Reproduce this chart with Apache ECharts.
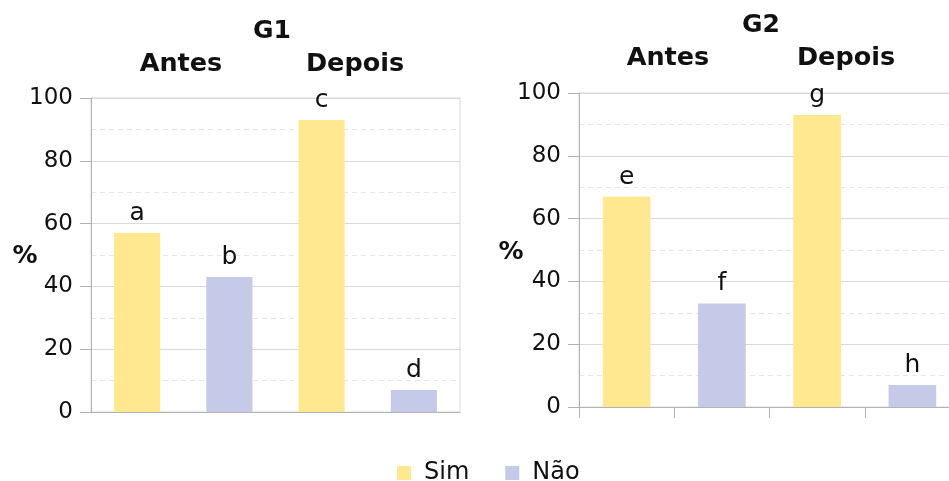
<!DOCTYPE html>
<html>
<head>
<meta charset="utf-8">
<script src="https://cdn.jsdelivr.net/npm/echarts@6/dist/echarts.min.js"></script>
<style>
html,body{margin:0;padding:0;background:#fff;overflow:hidden;width:949px;height:481px;}
#chart{width:965px;height:481px;}
</style>
</head>
<body>
<div id="chart"></div>
<script>
// ---- data ----
const slots = ['Antes Sim', 'Antes Não', 'Depois Sim', 'Depois Não'];
const periods = ['Antes', 'Depois'];
const seriesNames = ['Sim', 'Não'];
const yTicks = [0, 20, 40, 60, 80, 100];
const g1Sim = [57, 93];
const g1Nao = [43, 7];
const g2Sim = [67, 93];
const g2Nao = [33, 7];
const g1SimLetters = ['a', 'c'];
const g1NaoLetters = ['b', 'd'];
const g2SimLetters = ['e', 'g'];
const g2NaoLetters = ['f', 'h'];
const groupTitles = ['G1', 'G2'];

const FONT = 'DejaVu Sans';
const colSim = '#FFE88F';
const colNao = '#C5CAE8';
const gridCol = '#d9d9d9';
const axisCol = '#b3b3b3';
const textCol = '#111111';

function spread(vals, letters, offset) {
  // place the two period values in their slots (Sim -> 0,2 ; Não -> 1,3)
  const out = ['-', '-', '-', '-'];
  vals.forEach((v, i) => { out[i * 2 + offset] = { value: v, letter: letters[i] }; });
  return out;
}

function barSeries(name, idx, data, color) {
  return {
    name: name, type: 'bar', xAxisIndex: idx, yAxisIndex: idx,
    barWidth: '50%', barGap: '-100%',
    itemStyle: { color: color },
    data: data,
    label: {
      show: true, position: 'top', distance: 7,
      formatter: p => p.data.letter,
      fontFamily: FONT, fontSize: 25, color: textCol
    }
  };
}

function yAxis(idx) {
  return {
    type: 'value', gridIndex: idx, min: yTicks[0], max: yTicks[yTicks.length - 1], interval: 20,
    axisLine: { show: true, lineStyle: { color: axisCol } },
    axisTick: { show: true, length: 11, lineStyle: { color: axisCol } },
    axisLabel: { fontFamily: FONT, fontSize: 23, color: textCol, margin: 18 },
    splitLine: { show: true, lineStyle: { color: gridCol, width: 1 } },
    minorTick: { show: false, splitNumber: 2 },
    minorSplitLine: { show: true, lineStyle: { color: '#e6e6e6', type: [5, 4], width: 1 } }
  };
}

function xAxis(idx, ticks) {
  return {
    type: 'category', gridIndex: idx, data: slots,
    axisLine: { show: true, lineStyle: { color: axisCol } },
    axisTick: { show: ticks, length: 11, interval: 0, lineStyle: { color: axisCol } },
    axisLabel: { show: false }
  };
}

function txt(text, x, y, size) {
  return {
    type: 'text', x: x, y: y, silent: true,
    style: { text: text, font: 'bold ' + size + 'px "' + FONT + '"', fill: textCol,
             align: 'center', verticalAlign: 'middle', textAlign: 'center', textVerticalAlign: 'middle' }
  };
}

const chart = echarts.init(document.getElementById('chart'), null, { renderer: 'canvas' });
chart.setOption({
  animation: false,
  backgroundColor: '#fff',
  grid: [
    { left: 91, top: 98, width: 369, height: 314, show: true, borderColor: gridCol, borderWidth: 1, containLabel: false },
    { left: 579, top: 93, width: 381, height: 314, show: true, borderColor: gridCol, borderWidth: 1, containLabel: false }
  ],
  xAxis: [xAxis(0, false), xAxis(1, true)],
  yAxis: [yAxis(0), yAxis(1)],
  legend: {
    data: seriesNames, left: 392, top: 456,
    itemWidth: 14, itemHeight: 14, itemGap: 36, icon: 'rect',
    textStyle: { fontFamily: FONT, fontSize: 24, color: textCol, padding: [0, 0, 0, 8] }
  },
  graphic: [
    txt(groupTitles[0], 272, 31, 25),
    txt(periods[0], 181, 64, 25.5),
    txt(periods[1], 355, 64, 25.5),
    txt('%', 25, 256, 25),
    txt(groupTitles[1], 761, 25, 25),
    txt(periods[0], 668, 58, 25.5),
    txt(periods[1], 846, 58, 25.5),
    txt('%', 511, 252, 25)
  ],
  series: [
    barSeries(seriesNames[0], 0, spread(g1Sim, g1SimLetters, 0), colSim),
    barSeries(seriesNames[1], 0, spread(g1Nao, g1NaoLetters, 1), colNao),
    barSeries(seriesNames[0], 1, spread(g2Sim, g2SimLetters, 0), colSim),
    barSeries(seriesNames[1], 1, spread(g2Nao, g2NaoLetters, 1), colNao)
  ]
});
</script>
</body>
</html>
